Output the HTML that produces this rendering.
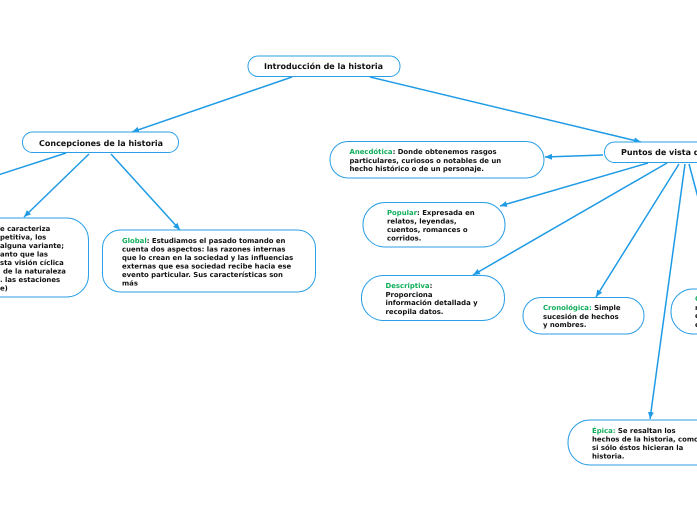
<!DOCTYPE html>
<html><head><meta charset="utf-8">
<style>
html,body{margin:0;padding:0;background:#fff;width:697px;height:520px;overflow:hidden}
svg{display:block}
text{font-family:"DejaVu Sans",sans-serif;font-weight:bold;fill:#111;text-rendering:geometricPrecision}
.t{font-size:6.9px}
.h{font-size:8px}
.g{fill:#0fae5a}
rect{fill:#fff;stroke:#2a9fe6;stroke-width:1}
line{stroke:#1f9be6;stroke-width:1.5}
path.a{fill:#1f9be6}
</style></head><body>
<svg width="697" height="520" viewBox="0 0 697 520" xmlns="http://www.w3.org/2000/svg">
<defs><marker id="m" markerUnits="userSpaceOnUse" markerWidth="8" markerHeight="7" refX="7" refY="3.500" orient="auto"><path class="a" d="M0 0.5L7 3.500L0 6.500Z"/></marker></defs>
<line x1="292" y1="77" x2="132" y2="132" marker-end="url(#m)"/>
<line x1="370" y1="77" x2="641" y2="142" marker-end="url(#m)"/>
<line x1="66" y1="153" x2="-2" y2="175"/>
<line x1="89" y1="154" x2="24" y2="217" marker-end="url(#m)"/>
<line x1="111" y1="154" x2="180" y2="230" marker-end="url(#m)"/>
<line x1="603" y1="155" x2="545" y2="157" marker-end="url(#m)"/>
<line x1="648" y1="163" x2="500" y2="206" marker-end="url(#m)"/>
<line x1="667" y1="163" x2="473" y2="275" marker-end="url(#m)"/>
<line x1="679" y1="164" x2="596" y2="297" marker-end="url(#m)"/>
<line x1="685" y1="164" x2="650" y2="419" marker-end="url(#m)"/>
<line x1="689" y1="164" x2="700" y2="205"/>
<rect x="248" y="56" width="152" height="20.500" rx="10"/>
<text class="h" x="264" y="69">Introducción de la historia</text>
<rect x="22.500" y="132" width="156" height="20.500" rx="10"/>
<text class="h" x="39" y="146">Concepciones de la historia</text>
<rect x="604.500" y="142" width="140" height="20.500" rx="10"/>
<text class="h" x="621" y="155">Puntos de vista de la historia</text>
<rect x="-60" y="218" width="148.500" height="79" rx="22"/>
<text class="t"><tspan x="0" y="231">e caracteriza</tspan><tspan x="0" y="239.500">petitiva, los</tspan><tspan x="0" y="248">alguna variante;</tspan><tspan x="0" y="256.500">anto que las</tspan><tspan x="0" y="265">sta visión cíclica</tspan><tspan x="3" y="273.500">de la naturaleza</tspan><tspan x="0" y="282">. las estaciones</tspan><tspan x="0" y="290.500">e)</tspan></text>
<rect x="102.500" y="230" width="213" height="62" rx="18"/>
<text class="t"><tspan x="122" y="243"><tspan class="g">Global</tspan>: Estudiamos el pasado tomando en</tspan><tspan x="122" y="251.500">cuenta dos aspectos: las razones internas</tspan><tspan x="122" y="260">que lo crean en la sociedad y las influencias</tspan><tspan x="122" y="268.500">externas que esa sociedad recibe hacia ese</tspan><tspan x="122" y="277">evento particular. Sus características son</tspan><tspan x="122" y="285.500">más</tspan></text>
<rect x="330" y="141.500" width="214" height="36.500" rx="18"/>
<text class="t"><tspan x="349.500" y="154"><tspan class="g">Anecdótica</tspan>: Donde obtenemos rasgos</tspan><tspan x="349.500" y="163">particulares, curiosos o notables de un</tspan><tspan x="349.500" y="171">hecho histórico o de un personaje.</tspan></text>
<rect x="363" y="202.500" width="142" height="44.500" rx="22"/>
<text class="t"><tspan x="387" y="215"><tspan class="g">Popular</tspan>: Expresada en</tspan><tspan x="387" y="223.500">relatos, leyendas,</tspan><tspan x="387" y="232">cuentos, romances o</tspan><tspan x="387" y="240.500">corridos.</tspan></text>
<rect x="361.500" y="275.500" width="143" height="45" rx="22"/>
<text class="t"><tspan x="385.500" y="288"><tspan class="g">Descriptiva</tspan>:</tspan><tspan x="385.500" y="297">Proporciona</tspan><tspan x="385.500" y="305">información detallada y</tspan><tspan x="385.500" y="314">recopila datos.</tspan></text>
<rect x="523" y="297.500" width="121" height="36.500" rx="18"/>
<text class="t"><tspan x="543" y="310"><tspan class="g">Cronológica:</tspan> Simple</tspan><tspan x="543" y="319">sucesión de hechos</tspan><tspan x="543" y="327">y nombres.</tspan></text>
<rect x="671" y="289" width="100" height="45" rx="22"/>
<text class="t"><tspan x="695" y="301" class="g">Genética</tspan><tspan x="695" y="310">m</tspan><tspan x="695" y="318">e</tspan><tspan x="695" y="327">e</tspan></text>
<rect x="568" y="420" width="180" height="45" rx="22"/>
<text class="t"><tspan x="592" y="433"><tspan class="g">Épica:</tspan> Se resaltan los</tspan><tspan x="592" y="441.500">hechos de la historia, como</tspan><tspan x="592" y="450">si sólo éstos hicieran la</tspan><tspan x="592" y="458.500">historia.</tspan></text>
</svg>
</body></html>
